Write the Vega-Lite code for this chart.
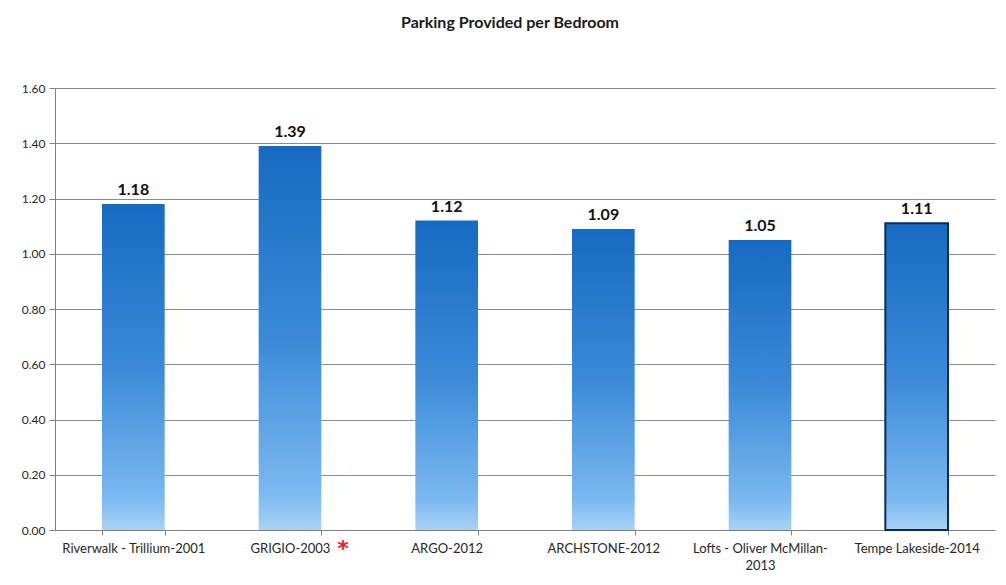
{
  "$schema": "https://vega.github.io/schema/vega-lite/v6.json",
  "width": 940,
  "height": 442,
  "autosize": {"type": "none"},
  "padding": {"left": 55, "top": 88, "right": 11, "bottom": 55},
  "background": "#ffffff",
  "title": {
    "text": "Parking Provided per Bedroom",
    "font": "Lato",
    "fontSize": 16,
    "fontWeight": "bold",
    "color": "#1a1a1a",
    "anchor": "middle",
    "dx": -15,
    "offset": 51
  },
  "data": {
    "values": [
      {"name": "Riverwalk - Trillium-2001", "value": 1.18, "mark": ""},
      {"name": "GRIGIO-2003", "value": 1.39, "mark": "*"},
      {"name": "ARGO-2012", "value": 1.12, "mark": ""},
      {"name": "ARCHSTONE-2012", "value": 1.09, "mark": ""},
      {"name": "Lofts - Oliver McMillan-2013", "value": 1.05, "mark": ""},
      {"name": "Tempe Lakeside-2014", "value": 1.11, "mark": ""}
    ]
  },
  "encoding": {
    "x": {
      "field": "name",
      "type": "nominal",
      "sort": null,
      "scale": {"paddingInner": 0.6, "paddingOuter": 0.3},
      "axis": {
        "title": null,
        "labelAngle": 0,
        "labelFont": "Lato",
        "labelFontSize": 13,
        "labelColor": "#262626",
        "labelPadding": 7,
        "labelLineHeight": 17,
        "labelExpr": "datum.value == 'Lofts - Oliver McMillan-2013' ? ['Lofts - Oliver McMillan-', '2013'] : datum.value",
        "tickBand": "extent",
        "tickSize": 5,
        "tickColor": "#808080",
        "domainColor": "#808080",
        "grid": false
      }
    },
    "y": {
      "field": "value",
      "type": "quantitative",
      "scale": {"domain": [0, 1.6], "nice": false},
      "axis": {
        "title": null,
        "values": [0, 0.2, 0.4, 0.6, 0.8, 1.0, 1.2, 1.4, 1.6],
        "format": ".2f",
        "labelFont": "Lato",
        "labelFontSize": 12,
        "labelColor": "#262626",
        "labelPadding": 4,
        "tickSize": 6,
        "tickColor": "#808080",
        "domainColor": "#808080",
        "grid": true,
        "gridColor": "#8c8c8c",
        "gridWidth": 1
      }
    }
  },
  "layer": [
    {
      "mark": {
        "type": "bar",
        "color": {
          "gradient": "linear",
          "x1": 0, "y1": 0, "x2": 0, "y2": 1,
          "stops": [
            {"offset": 0, "color": "#176ac2"},
            {"offset": 0.5, "color": "#3a8ad8"},
            {"offset": 0.9, "color": "#7ab8f0"},
            {"offset": 1, "color": "#a9d2f5"}
          ]
        },
        "stroke": "#0b2a63"
      },
      "encoding": {
        "strokeWidth": {
          "condition": {"test": "datum.name === 'Tempe Lakeside-2014'", "value": 2},
          "value": 0
        }
      }
    },
    {
      "mark": {
        "type": "text",
        "baseline": "bottom",
        "dy": -6,
        "font": "Lato",
        "fontSize": 16,
        "fontWeight": "bold",
        "color": "#111111"
      },
      "encoding": {
        "text": {"field": "value", "type": "quantitative", "format": ".2f"}
      }
    },
    {
      "mark": {
        "type": "text",
        "baseline": "top",
        "align": "center",
        "dx": 53,
        "dy": 9,
        "font": "DejaVu Sans",
        "fontSize": 22,
        "fontWeight": "bold",
        "color": "#e8202a"
      },
      "encoding": {
        "y": {"datum": 0},
        "text": {"field": "mark"}
      }
    }
  ],
  "config": {
    "view": {"stroke": null}
  }
}
